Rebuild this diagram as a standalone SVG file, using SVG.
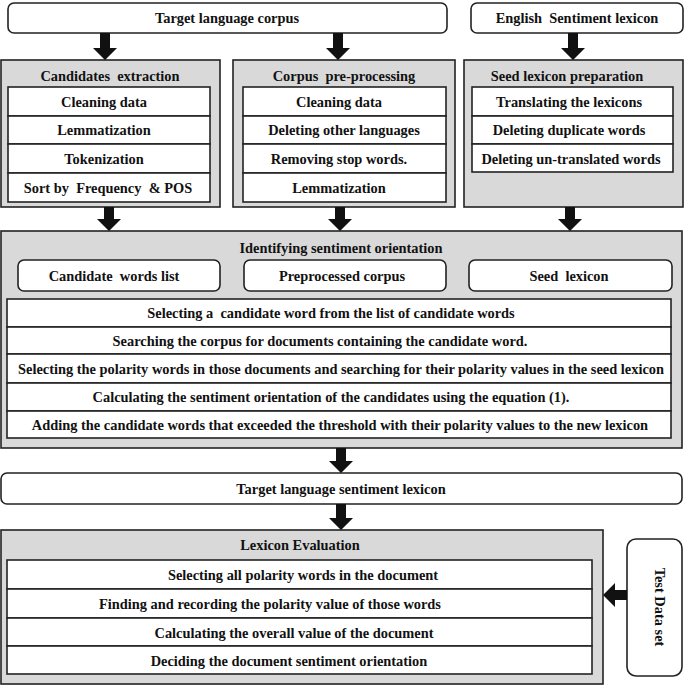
<svg xmlns="http://www.w3.org/2000/svg" width="685" height="685" viewBox="0 0 685 685">
<style>
text{font-family:"Liberation Serif","Times New Roman",serif;font-weight:bold;font-size:14.4px;fill:#111;text-anchor:middle}
.g{fill:#d9d9d9;stroke:#222;stroke-width:1.6}
.w{fill:#fff;stroke:#222;stroke-width:1.6}
.arr{fill:#111;stroke:none}
</style>
<rect width="685" height="685" fill="#fff"/>
<g id="target-corpus"><rect class="w" x="8" y="3" width="439" height="30" rx="6"/><text x="227" y="23">Target language corpus</text></g>
<g id="english-lexicon"><rect class="w" x="471" y="3" width="212" height="30" rx="6"/><text x="577" y="23" xml:space="preserve">English  Sentiment lexicon</text></g>

<g id="candidates-extraction">
<rect class="g" x="1" y="60" width="219" height="147"/>
<text x="110" y="81" xml:space="preserve">Candidates  extraction</text>
<rect class="w" x="8" y="87" width="202" height="29"/><text x="104" y="107">Cleaning data</text>
<rect class="w" x="8" y="116" width="202" height="28"/><text x="104" y="135">Lemmatization</text>
<rect class="w" x="8" y="144" width="202" height="29"/><text x="104" y="164">Tokenization</text>
<rect class="w" x="8" y="173" width="202" height="29"/><text x="108" y="193" xml:space="preserve">Sort by  Frequency  &amp; POS</text>
</g>

<g id="corpus-preprocessing">
<rect class="g" x="233" y="60" width="222" height="147"/>
<text x="344" y="81" xml:space="preserve">Corpus  pre-processing</text>
<rect class="w" x="243" y="87" width="203" height="29"/><text x="339" y="107">Cleaning data</text>
<rect class="w" x="243" y="116" width="203" height="28"/><text x="344" y="135">Deleting other languages</text>
<rect class="w" x="243" y="144" width="203" height="29"/><text x="339" y="164">Removing stop words.</text>
<rect class="w" x="243" y="173" width="203" height="29"/><text x="339" y="193">Lemmatization</text>
</g>

<g id="seed-preparation">
<rect class="g" x="464" y="60" width="219" height="147"/>
<text x="567" y="81">Seed lexicon preparation</text>
<rect class="w" x="472" y="87" width="201" height="29"/><text x="569" y="107">Translating the lexicons</text>
<rect class="w" x="472" y="116" width="201" height="28"/><text x="569" y="135">Deleting duplicate words</text>
<rect class="w" x="472" y="144" width="201" height="28"/><text x="571" y="164">Deleting un-translated words</text>
</g>

<g id="identifying">
<rect class="g" x="1" y="231" width="681" height="217"/>
<text x="341" y="253">Identifying sentiment orientation</text>
<rect class="w" x="18" y="260" width="202" height="31" rx="6"/><text x="114" y="281" xml:space="preserve">Candidate  words list</text>
<rect class="w" x="244" y="260" width="202" height="31" rx="6"/><text x="342" y="281">Preprocessed corpus</text>
<rect class="w" x="469" y="260" width="203" height="31" rx="6"/><text x="569" y="281" xml:space="preserve">Seed  lexicon</text>
<rect class="w" x="7" y="299" width="664" height="28"/><text x="331" y="318" xml:space="preserve">Selecting a  candidate word from the list of candidate words</text>
<rect class="w" x="7" y="327" width="664" height="27"/><text x="320" y="346">Searching the corpus for documents containing the candidate word.</text>
<rect class="w" x="7" y="354" width="664" height="29"/><text x="341" y="374">Selecting the polarity words in those documents and searching for their polarity values in the seed lexicon</text>
<rect class="w" x="7" y="383" width="664" height="28"/><text x="331" y="402">Calculating the sentiment orientation of the candidates using the equation (1).</text>
<rect class="w" x="7" y="411" width="664" height="27"/><text x="340" y="430">Adding the candidate words that exceeded the threshold with their polarity values to the new lexicon</text>
</g>

<g id="target-lexicon"><rect class="w" x="1" y="473" width="681" height="31" rx="6"/><text x="341" y="494">Target language sentiment lexicon</text></g>

<g id="lexicon-evaluation">
<rect class="g" x="1" y="530" width="602" height="154"/>
<text x="300" y="550">Lexicon Evaluation</text>
<rect class="w" x="7" y="560" width="585" height="29"/><text x="303" y="580">Selecting all polarity words in the document</text>
<rect class="w" x="7" y="589" width="585" height="29"/><text x="270" y="609">Finding and recording the polarity value of those words</text>
<rect class="w" x="7" y="618" width="585" height="28"/><text x="294" y="638">Calculating the overall value of the document</text>
<rect class="w" x="7" y="646" width="585" height="28"/><text x="289" y="666">Deciding the document sentiment orientation</text>
</g>

<g id="test-data"><rect class="w" x="627" y="539" width="55" height="137" rx="9"/><text transform="translate(655 607) rotate(90)">Test Data set</text></g>

<g id="connectors">
<polygon class="arr" points="100,33 110,33 110,48 117,48 105,60 93,48 100,48"/>
<polygon class="arr" points="333,33 343,33 343,48 350,48 338,60 326,48 333,48"/>
<polygon class="arr" points="568,33 578,33 578,48 585,48 573,60 561,48 568,48"/>
<polygon class="arr" points="104,207 114,207 114,219 121,219 109,231 97,219 104,219"/>
<polygon class="arr" points="335,207 345,207 345,219 352,219 340,231 328,219 335,219"/>
<polygon class="arr" points="565,207 575,207 575,219 582,219 570,231 558,219 565,219"/>
<polygon class="arr" points="336,448 346,448 346,461 353,461 341,473 329,461 336,461"/>
<polygon class="arr" points="336,504 346,504 346,518 353,518 341,530 329,518 336,518"/>
<polygon class="arr" points="627,590 615,590 615,583 603,595 615,607 615,600 627,600"/>
</g>
</svg>
